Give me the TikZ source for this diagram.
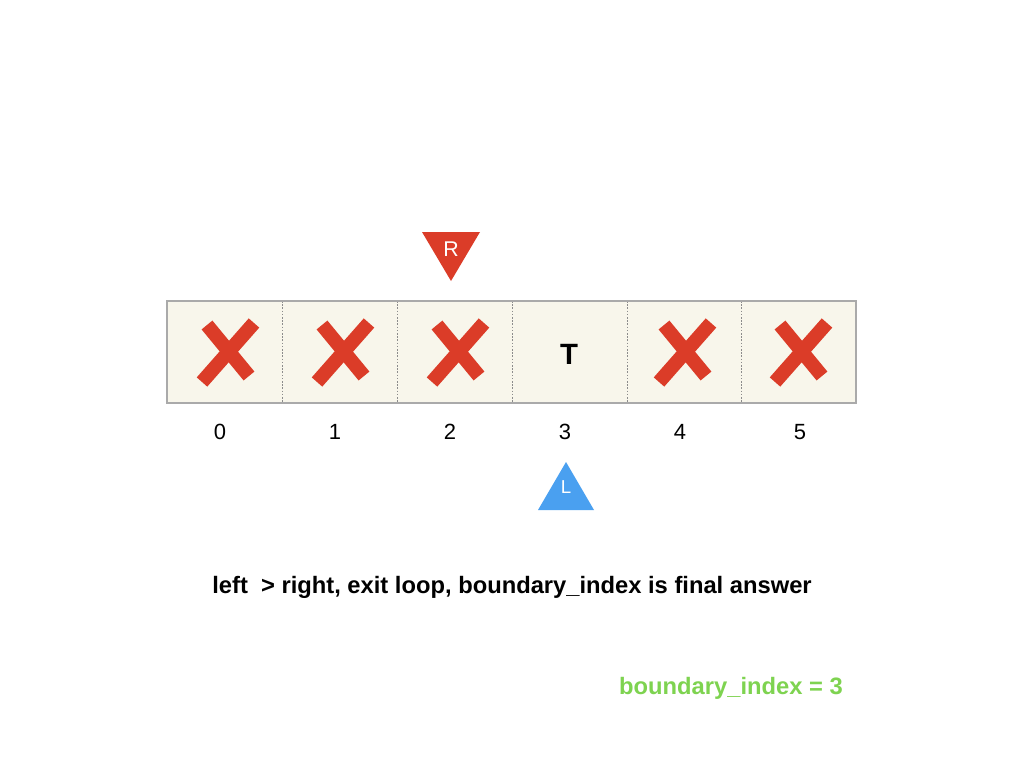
\documentclass[tikz,border=0pt]{standalone}
\usepackage{fontspec}
\setmainfont{Liberation Sans}
\begin{document}
\begin{tikzpicture}[x=0.75pt,y=-0.75pt,
  idx/.style={font=\fontsize{16.5}{19}\selectfont,text=black},
  ptr/.style={text=white},
  xmark/.style={draw=xred,line width=10.5pt,line cap=butt},
  divider/.style={draw=divgray,dash pattern=on 1.2pt off 1.2pt,line width=0.5pt}]
\definecolor{cellfill}{RGB}{248,246,235}
\definecolor{bordergray}{RGB}{170,170,170}
\definecolor{divgray}{RGB}{140,140,140}
\definecolor{xred}{RGB}{219,60,40}
\definecolor{lblue}{RGB}{74,160,240}
\definecolor{bgreen}{RGB}{126,211,80}
\useasboundingbox (0,0) rectangle (1024,768);
\fill[white] (0,0) rectangle (1024,768);
% array
\fill[cellfill] (167,301) rectangle (856,403);
\foreach \xx in {282,397,512,627,741} \draw[divider] (\xx,301) -- (\xx,403);
\draw[bordergray,line width=1pt] (167,301) rectangle (856,403);
% T
\node[font=\bfseries\fontsize{22}{26}\selectfont] (t) at (569,354) {T};
% X marks
\foreach \cx in {227,342,457,684,800}{
  \draw[xmark] (\cx-20,325) -- (\cx+22,376);
  \draw[xmark] (\cx+27,323) -- (\cx-25,382);
}
% indices
\foreach \i/\xx in {0/220,1/335,2/450,3/565,4/680,5/800}
  \node[idx] (i\i) at (\xx,432) {\i};
% pointers
\fill[xred] (422,232) -- (480,232) -- (451,281) -- cycle;
\node[ptr,font=\fontsize{16}{18}\selectfont] (r) at (451,249) {R};
\fill[lblue] (538,510) -- (594,510) -- (566,462) -- cycle;
\node[ptr,font=\fontsize{14}{16}\selectfont] (l) at (566,487) {L};
% texts
\node[font=\bfseries\fontsize{17.8}{21}\selectfont] (msg) at (512,587) {left\ \ > right, exit loop, boundary\_index is final answer};
\node[font=\bfseries\fontsize{17.8}{21}\selectfont,text=bgreen] (ans) at (731,688) {boundary\_index = 3};
\end{tikzpicture}
\end{document}
